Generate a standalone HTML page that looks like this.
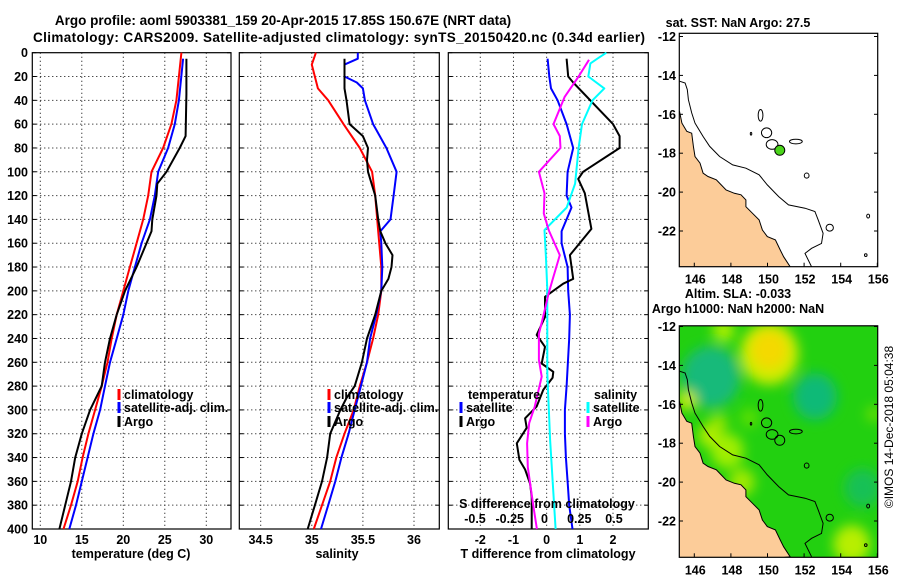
<!DOCTYPE html>
<html><head><meta charset="utf-8"><style>
body{margin:0;background:#fff;}
svg{display:block;font-family:"Liberation Sans",sans-serif;font-weight:bold;}
</style></head><body>
<svg id="fig" width="900" height="580" viewBox="0 0 900 580">
<text x="283" y="25" font-size="13.5" text-anchor="middle">Argo profile: aoml 5903381_159 20-Apr-2015 17.85S 150.67E (NRT data)</text>
<text x="339" y="42" font-size="13.5" text-anchor="middle" textLength="612">Climatology: CARS2009. Satellite-adjusted climatology: synTS_20150420.nc (0.34d earlier)</text>
<text x="738" y="27" font-size="12.5" text-anchor="middle">sat. SST: NaN Argo: 27.5</text>
<text x="738" y="298" font-size="12.5" text-anchor="middle">Altim. SLA: -0.033</text>
<text x="738" y="313" font-size="12.5" text-anchor="middle">Argo h1000: NaN h2000: NaN</text>
<text transform="translate(893,427) rotate(-90)" font-size="12" font-weight="normal" text-anchor="middle">©IMOS 14-Dec-2018 05:04:38</text>
<defs>
<filter id="blur" x="-50%" y="-50%" width="200%" height="200%"><feGaussianBlur stdDeviation="6"/></filter>
<clipPath id="clipTop"><rect x="679.3" y="33.3" width="198.4" height="233.4"/></clipPath>
<clipPath id="clipBot"><rect x="679.3" y="325.8" width="198.4" height="231.5"/></clipPath>
</defs>
<g id="layer"></g>
</svg>
<script>
// ---------- profile data (depth in dbar) ----------
const tDepth = [0,40,60,80,100,120,140,160,180,200,220,240,260,280,300,320,340,360,380,400];
const tClim  = [27.0,26.4,25.8,24.8,23.4,23.0,22.4,21.6,20.8,20.0,19.2,18.6,18.1,17.4,16.6,15.8,15.1,14.5,13.7,12.8];
const tSatDepth = [5,40,60,80,100,120,140,160,180,200,220,240,260,280,300,320,340,360,380,400];
const tSat   = [27.2,26.7,26.2,25.4,24.2,23.8,23.2,22.2,21.4,20.6,20.0,19.2,18.4,17.8,17.2,16.4,15.7,15.0,14.3,13.5];
const tArgoDepth = [5,35,70,80,100,110,120,140,150,160,180,200,220,240,260,280,300,320,340,360,380,400];
const tArgo  = [27.6,27.6,27.5,26.8,25.2,24.1,24.0,23.5,23.4,22.8,21.6,20.2,19.2,18.4,17.8,17.4,16.0,15.0,14.2,13.7,13.0,12.3];

const sClimDepth = [0,10,30,40,60,80,100,120,150,180,200,220,240,260,280,300,320,340,360,380,400];
const sClim  = [35.04,35.0,35.06,35.16,35.31,35.47,35.59,35.62,35.65,35.68,35.68,35.65,35.6,35.54,35.47,35.41,35.32,35.24,35.18,35.1,35.02];
const sSatDepth = [0,5,10,20,25,30,40,60,80,100,120,140,150,160,180,200,220,240,260,280,300,320,340,360,380,400];
const sSat   = [35.45,35.45,35.32,35.32,35.44,35.5,35.52,35.6,35.73,35.83,35.8,35.77,35.67,35.68,35.69,35.68,35.63,35.57,35.54,35.48,35.42,35.36,35.29,35.23,35.16,35.09];
const sArgoDepth = [5,30,40,60,70,80,90,100,120,140,150,160,170,180,190,200,220,240,260,280,290,300,320,340,360,380,400];
const sArgo  = [35.32,35.32,35.34,35.37,35.5,35.55,35.54,35.55,35.62,35.65,35.67,35.72,35.79,35.78,35.75,35.68,35.62,35.54,35.49,35.42,35.34,35.28,35.18,35.15,35.1,35.03,34.96];

const dTSatDepth = [5,20,30,40,60,80,100,120,130,150,160,180,200,220,240,280,300,320,340,360,380,400];
const dTSat  = [0.03,0.08,0.13,0.33,0.6,0.8,0.63,0.6,0.75,0.45,0.45,0.63,0.65,0.7,0.68,0.6,0.55,0.55,0.58,0.63,0.68,0.78];
const dTArgoDepth = [5,20,25,60,70,80,100,106,118,148,170,190,194,205,222,237,247,261,268,273,283,297,307,315,328,342,350,362,373,400];
const dTArgo = [0.6,0.65,0.8,2.0,2.2,2.2,1.1,0.95,1.15,1.35,0.7,0.8,0.5,-0.05,-0.05,-0.3,-0.05,-0.15,0.2,0.18,-0.1,-0.3,-0.65,-0.6,-0.9,-0.82,-0.65,-0.5,-0.45,-0.45];
const dSArgoDepth = [6,20,37,60,70,80,100,118,135,149,170,190,202,222,236,258,272,297,311,328,348,381,400];
const dSArgo = [0.32,0.245,0.145,0.065,0.11,0.115,-0.04,0,-0.005,0.03,0.11,0.06,0.03,-0.01,-0.04,-0.04,-0.02,-0.07,-0.11,-0.125,-0.12,-0.08,-0.055];
const dSSatDepth = [0,5,9,20,30,40,60,80,110,130,149,171,199,269,325,400];
const dSSat  = [0.445,0.38,0.33,0.315,0.43,0.345,0.27,0.245,0.22,0.16,0,0.01,0.02,0.02,0.04,0.08];

const depthTicks = [0,20,40,60,80,100,120,140,160,180,200,220,240,260,280,300,320,340,360,380,400];
const tTicks = [10,15,20,25,30];
const sTicks = [34.5,35,35.5,36];
const sTickLabels = ["34.5","35","35.5","36"];
const dTTicks = [-2,-1,0,1,2];
const dSTicks = [-0.5,-0.25,0,0.25,0.5];
const dSTickLabels = ["-0.5","-0.25","0","0.25","0.5"];
const latTicks = [-12,-14,-16,-18,-20,-22];
const lonTicks = [146,148,150,152,154,156];

// ---------- map geometry (lon/lat) ----------
const coastLon = [145.19,145.32,145.59,145.86,145.95,146.04,146.31,146.48,146.75,147.2,147.47,147.74,148.19,148.55,148.82,148.82,149.18,149.54,149.72,149.99,150.43,150.7,150.88,151.24];
const coastLat = [-15.85,-16.45,-16.88,-16.97,-17.65,-18.17,-18.51,-19.03,-19.2,-19.37,-19.63,-19.89,-20.06,-20.14,-20.4,-20.75,-21.09,-21.43,-21.95,-22.29,-22.46,-22.98,-23.32,-23.84];
const contLon = [145.19,145.5,145.62,145.68,145.86,146.04,146.48,146.84,147.38,148.1,148.82,149.54,149.99,150.61,151.15,152.05,152.59,152.77,153.04,152.95,152.41,152.05,152.41];
const contLat = [-14.3,-14.39,-14.73,-15.25,-15.93,-16.45,-17.14,-17.65,-18.17,-18.6,-18.77,-19.11,-19.63,-20.23,-20.66,-20.83,-21.0,-21.43,-22.12,-22.64,-22.89,-23.15,-23.84];
const reefLon = [149.62,149.95,150.25,151.55,152.14,153.4,155.5,155.37,149.1];
const reefLat = [-16.05,-16.95,-17.55,-17.4,-19.15,-21.83,-21.23,-23.24,-17.0];
const reefRx = [0.13,0.28,0.32,0.35,0.13,0.2,0.08,0.07,0.04];
const reefRy = [0.3,0.25,0.25,0.12,0.13,0.18,0.1,0.07,0.07];
const argoLon = 150.67, argoLat = -17.85;
const blobLon = [146.9,152.6,155.2,150.1,150.1,147.8,147.6,154.6,155.8,145.6,148.6,146.8,147.3,149.0];
const blobLat = [-14.6,-15.6,-20.3,-13.4,-13.2,-18.4,-12.2,-23.2,-16.5,-15.8,-20.0,-17.6,-17.0,-16.7];
const blobR   = [1.6,1.2,1.0,1.6,1.0,0.9,0.6,1.0,0.4,0.5,0.7,0.6,0.5,0.5];
const blobColor = ["#14b880","#10b87c","#18c058","#d8ee00","#f5d800","#a8f000","#b0f000","#c0f000","#70e000","#d8f000","#a8ec00","#b8f000","#a0e800","#60e000"];

// ---------- helpers ----------
const NS = "http://www.w3.org/2000/svg";
const layer = document.getElementById("layer");
function mk(tag, attrs, parent) {
  const e = document.createElementNS(NS, tag);
  for (const k in attrs) e.setAttribute(k, attrs[k]);
  (parent || layer).appendChild(e);
  return e;
}
const Y0 = 52.7, Y1 = 529;
function yD(d) { return Y0 + d * (Y1 - Y0) / 400; }
function scaleX(px0, px1, v0, v1) { return v => px0 + (v - v0) * (px1 - px0) / (v1 - v0); }

function panel(name, px0, px1, xs, ticks, labels, yLabels) {
  const g = mk("g", {});
  
  
  for (const d of depthTicks) {
    if (d === 0 || d === 400) continue;
    const l = mk("line", {x1: px0, x2: px1, y1: yD(d), y2: yD(d), stroke: "#000", "stroke-width": 1, "stroke-dasharray": "1,3"}, g);
    
    
  }
  ticks.forEach((t, i) => {
    const x = xs(t);
    const l = mk("line", {x1: x, x2: x, y1: Y0, y2: Y1, stroke: "#000", "stroke-width": 1, "stroke-dasharray": "1,3"}, g);
    
    
    if (labels) {
      const tx = mk("text", {x: x, y: 544, "font-size": 12.5, "text-anchor": "middle"}, g);
      tx.textContent = labels[i];
      
      
    }
  });
  for (const d of depthTicks) {
    const t1 = mk("line", {x1: px0, x2: px0 + 4, y1: yD(d), y2: yD(d), stroke: "#000"}, g);
    
    
    const t2 = mk("line", {x1: px1, x2: px1 - 4, y1: yD(d), y2: yD(d), stroke: "#000"}, g);
    
    
    if (yLabels) {
      const tx = mk("text", {x: 28, y: yD(d) + 4.5, "font-size": 12.5, "text-anchor": "end"}, g);
      tx.textContent = String(d);
      
      
    }
  }
  const box = mk("rect", {x: px0, y: Y0, width: px1 - px0, height: Y1 - Y0, fill: "none", stroke: "#000", "stroke-width": 1.2}, g);
  
  
  return g;
}
function series(g, name, xs, vals, depths, color, w) {
  const pts = vals.map((v, i) => xs(v).toFixed(1) + "," + yD(depths[i]).toFixed(1)).join(" ");
  const p = mk("polyline", {points: pts, fill: "none", stroke: color, "stroke-width": w || 2, "stroke-linejoin": "round"}, g);
  
  
}
function legend(g, name, x, y, color, label) {
  const b = mk("rect", {x: x - 1.5, y: y - 10, width: 3, height: 11, fill: color}, g);
  
  
  if (label) {
    const t = mk("text", {x: x + 5, y: y, "font-size": 12.5}, g);
    t.textContent = label;
    
    
  }
}
function txt(g, name, x, y, s, anchor, size) {
  const t = mk("text", {x: x, y: y, "font-size": size || 12.5, "text-anchor": anchor || "start"}, g);
  t.textContent = s;
  
  
}

// ---------- panel 1: temperature ----------
const xT = scaleX(40.3, 206.3, 10, 30);
const g1 = panel("temperature-panel", 32.3, 231, xT, tTicks, tTicks.map(String), true);
series(g1, "temperature-climatology-line", xT, tClim, tDepth, "#f00");
series(g1, "temperature-satellite-line", xT, tSat, tSatDepth, "#00f");
series(g1, "temperature-argo-line", xT, tArgo, tArgoDepth, "#000");
legend(g1, "legend-climatology", 119, 399, "#f00", "climatology");
legend(g1, "legend-satellite", 119, 412, "#00f", "satellite-adj. clim.");
legend(g1, "legend-argo", 119, 426, "#000", "Argo");
txt(g1, "temperature-axis-title", 131, 558, "temperature (deg C)", "middle");

// ---------- panel 2: salinity ----------
const xS = scaleX(260.7, 414, 34.5, 36);
const g2 = panel("salinity-panel", 239.3, 439.3, xS, sTicks, sTickLabels, false);
series(g2, "salinity-climatology-line", xS, sClim, sClimDepth, "#f00");
series(g2, "salinity-satellite-line", xS, sSat, sSatDepth, "#00f");
series(g2, "salinity-argo-line", xS, sArgo, sArgoDepth, "#000");
legend(g2, "salinity-legend-climatology", 329, 399, "#f00", "climatology");
legend(g2, "salinity-legend-satellite", 329, 412, "#00f", "satellite-adj. clim.");
legend(g2, "salinity-legend-argo", 329, 426, "#000", "Argo");
txt(g2, "salinity-axis-title", 337, 558, "salinity", "middle");

// ---------- panel 3: differences ----------
const xDT = scaleX(480.3, 613, -2, 2);
const xDS = scaleX(475, 614, -0.5, 0.5);
const g3 = panel("difference-panel", 448.3, 648.3, xDT, dTTicks, dTTicks.map(String), false);
series(g3, "dt-satellite-line", xDT, dTSat, dTSatDepth, "#00f");
series(g3, "dt-argo-line", xDT, dTArgo, dTArgoDepth, "#000");
series(g3, "ds-satellite-line", xDS, dSSat, dSSatDepth, "#0ff");
series(g3, "ds-argo-line", xDS, dSArgo, dSArgoDepth, "#f0f");
txt(g3, "legend-temperature-heading", 468, 399, "temperature");
legend(g3, "legend-dt-satellite", 461, 412, "#00f", "satellite");
legend(g3, "legend-dt-argo", 461, 426, "#000", "Argo");
txt(g3, "legend-salinity-heading", 594, 399, "salinity");
legend(g3, "legend-ds-satellite", 588, 412, "#0ff", "satellite");
legend(g3, "legend-ds-argo", 588, 426, "#f0f", "Argo");
txt(g3, "s-difference-axis-title", 547, 508, "S difference from climatology", "middle");
dSTicks.forEach((s, i) => {
  const t = mk("text", {x: xDS(s), y: 523, "font-size": 12.5, "text-anchor": "middle"}, g3);
  t.textContent = dSTickLabels[i];
  
  
});
txt(g3, "t-difference-axis-title", 548, 558, "T difference from climatology", "middle");

// ---------- maps ----------
const lonX = scaleX(694.3, 877.3, 146, 156);
function drawMap(name, topY, boxH, latTopY, clipId, colored) {
  const latY = lat => latTopY + (-12 - lat) * 19.45;
  const g = mk("g", {});
  
  
  const inner = mk("g", {"clip-path": "url(#" + clipId + ")"}, g);
  const bg = mk("rect", {x: 679.3, y: topY, width: 198.4, height: boxH, fill: colored ? "#22d010" : "#fff"}, inner);
  
  
  if (colored) {
    const bl = mk("g", {filter: "url(#blur)"}, inner);
    blobLon.forEach((lo, i) => {
      const c = mk("ellipse", {cx: lonX(lo), cy: latY(blobLat[i]), rx: blobR[i] * 18.3, ry: blobR[i] * 19.4, fill: blobColor[i], opacity: 0.95}, bl);
      
      
    });
  }
  let pts = coastLon.map((lo, i) => lonX(lo).toFixed(1) + "," + latY(coastLat[i]).toFixed(1));
  pts.push(lonX(145.0).toFixed(1) + "," + latY(-24.5).toFixed(1));
  pts.push(lonX(145.0).toFixed(1) + "," + latY(coastLat[0]).toFixed(1));
  const land = mk("polygon", {points: pts.join(" "), fill: "#fccc99", stroke: "#000", "stroke-width": 1}, inner);
  
  
  const cont = mk("polyline", {points: contLon.map((lo, i) => lonX(lo).toFixed(1) + "," + latY(contLat[i]).toFixed(1)).join(" "), fill: "none", stroke: "#000", "stroke-width": 1}, inner);
  
  
  reefLon.forEach((lo, i) => {
    const r = mk("ellipse", {cx: lonX(lo), cy: latY(reefLat[i]), rx: reefRx[i] * 18.3, ry: reefRy[i] * 19.4, fill: "none", stroke: "#000", "stroke-width": 1}, inner);
    
    
  });
  const a = mk("circle", {cx: lonX(argoLon), cy: latY(argoLat), r: 5, fill: colored ? "none" : "#4ad41a", stroke: "#000"}, inner);
  
  
  const box = mk("rect", {x: 679.3, y: topY, width: 198.4, height: boxH, fill: "none", stroke: "#000", "stroke-width": 1.2}, g);
  
  
  latTicks.forEach(la => {
    const y = latY(la);
    const t = mk("line", {x1: 679.3, x2: 683, y1: y, y2: y, stroke: "#000"}, g);
    
    
    const t2 = mk("line", {x1: 877.7, x2: 874, y1: y, y2: y, stroke: "#000"}, g);
    
    
    const l = mk("text", {x: 676, y: y + 4.5, "font-size": 12.5, "text-anchor": "end"}, g);
    l.textContent = String(la);
    
    
  });
  lonTicks.forEach(lo => {
    const x = lonX(lo);
    const t = mk("line", {x1: x, x2: x, y1: topY + boxH, y2: topY + boxH - 4, stroke: "#000"}, g);
    
    
    const l = mk("text", {x: x + 1, y: topY + boxH + 17, "font-size": 12.5, "text-anchor": "middle"}, g);
    l.textContent = String(lo);
    
    
  });
}
drawMap("sst-map", 33.3, 233.4, 36.5, "clipTop", false);
drawMap("sla-map", 325.8, 231.5, 326.5, "clipBot", true);
</script>
</body></html>
